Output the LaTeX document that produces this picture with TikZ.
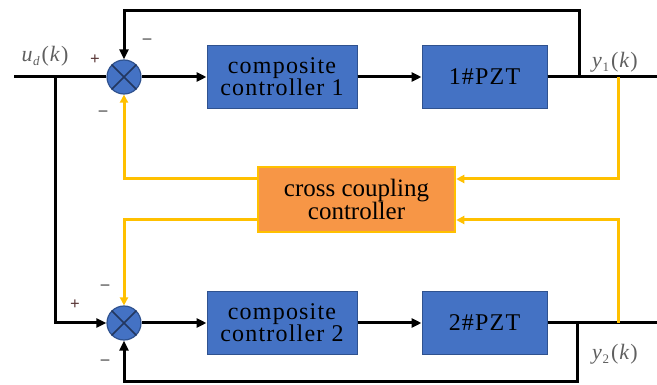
\documentclass[tikz,border=0pt]{standalone}
\usepackage{fontspec}
\setmainfont{Liberation Serif}
\newfontfamily\tnr[Ligatures=TeX]{Liberation Serif}
\newfontfamily\tnrsp[Ligatures=TeX,LetterSpace=5]{Liberation Serif}
\usetikzlibrary{arrows.meta}
\definecolor{bluefill}{RGB}{68,114,196}
\definecolor{blueedge}{RGB}{47,82,143}
\definecolor{xcol}{RGB}{35,55,95}
\definecolor{orfill}{RGB}{247,150,70}
\definecolor{yel}{RGB}{255,192,0}
\definecolor{lblgray}{RGB}{95,95,95}
\newcommand{\sig}[2]{\textit{#1}\kern0.5pt\raisebox{-4pt}{\fontsize{13}{13}\selectfont #2}\kern2pt(\kern1pt\textit{k}\kern1pt)}
\begin{document}
\begin{tikzpicture}[x=1pt,y=-1pt,
  blk/.style={draw=blueedge, fill=bluefill, line width=1pt, minimum width=150pt,
    minimum height=63pt, align=center, inner sep=0pt, text=black,
    font=\tnrsp\fontsize{24}{22}\selectfont},
  ccb/.style={draw=yel, fill=orfill, line width=2.5pt, minimum width=197pt,
    minimum height=65pt, align=center, inner sep=0pt, text=black,
    font=\tnr\fontsize{25}{22}\selectfont},
  sumc/.style={circle, draw=blueedge, fill=bluefill, line width=1.2pt,
    minimum size=34pt, inner sep=0pt},
  xline/.style={draw=xcol, line width=1.6pt},
  bl/.style={draw=black, line width=3pt},
  barr/.style={bl, -{Triangle[length=10pt,width=9pt]}},
  yl/.style={draw=yel, line width=3pt},
  yarr/.style={yl, -{Triangle[length=8pt,width=8pt]}},
  mathlbl/.style={text=lblgray, font=\tnr\fontsize{22}{22}\selectfont},
  sgn/.style={text=black, font=\tnr\fontsize{17}{17}\selectfont, inner sep=0pt},
  plus/.style={text={rgb,255:red,90;green,55;blue,55}, font=\tnr\fontsize{17}{17}\selectfont\bfseries, inner sep=0pt}
]
\useasboundingbox (0,0) rectangle (657,385);

% blocks
\node[sumc] (s1) at (124,77) {};
\node[sumc] (s2) at (124,323) {};
\node[blk] (c1) at (282,77) {composite\\controller 1};
\node[blk, minimum width=125pt] (p1) at (484.5,77) {1\#PZT};
\node[blk] (c2) at (282,323) {composite\\controller 2};
\node[blk, minimum width=125pt] (p2) at (484.5,323) {2\#PZT};
\node[ccb] (cc) at (356.5,199.5) {cross coupling\\controller};

% crosses in summing junctions
\draw[xline] (s1.45) -- (s1.225) (s1.135) -- (s1.315);
\draw[xline] (s2.45) -- (s2.225) (s2.135) -- (s2.315);

% coordinates
\coordinate (in) at (14,77);
\coordinate (br) at (55,77);
\coordinate (out1) at (657,77);
\coordinate (out2) at (657,323);
\coordinate (fb1) at (579,77);
\coordinate (fb2) at (577,323);
\coordinate (t1) at (579,11);
\coordinate (t2) at (577,381);
\coordinate (y1t) at (618,77);
\coordinate (y2t) at (618,323);

% black signal paths
\draw[bl] (in) -- (s1.west);
\draw[barr] (br) |- (s2.west);
\draw[barr] (s1) -- (c1);
\draw[barr] (c1) -- (p1);
\draw[bl] (p1.east) -- (out1);
\draw[barr] (s2) -- (c2);
\draw[barr] (c2) -- (p2);
\draw[bl] (p2.east) -- (out2);
\draw[barr] (fb1) -- (t1) -| (s1.north);
\draw[barr] (fb2) -- (t2) -| (s2.south);

% yellow cross coupling paths
\draw[yarr] (y1t) |- ([yshift=20.5pt]cc.east);
\draw[yarr] (y2t) |- ([yshift=-20.5pt]cc.east);
\draw[yarr] ([yshift=20.5pt]cc.west) -| (s1.south);
\draw[yarr] ([yshift=-20.5pt]cc.west) -| (s2.north);

% labels
\node[mathlbl] (ud) at (45,56) {\sig{u}{\textit{d}}};
\node[mathlbl] (y1) at (615,62) {\sig{y}{1}};
\node[mathlbl] (y2) at (615,354) {\sig{y}{2}};
\node[plus] (pa) at (95,60) {+};
\node[sgn] (ma) at (147,41) {\textendash};
\node[sgn] (mb) at (103,113) {\textendash};
\node[sgn] (mc) at (105,287) {\textendash};
\node[plus] (pb) at (75,305) {+};
\node[sgn] (md) at (105,362) {\textendash};
\end{tikzpicture}
\end{document}
